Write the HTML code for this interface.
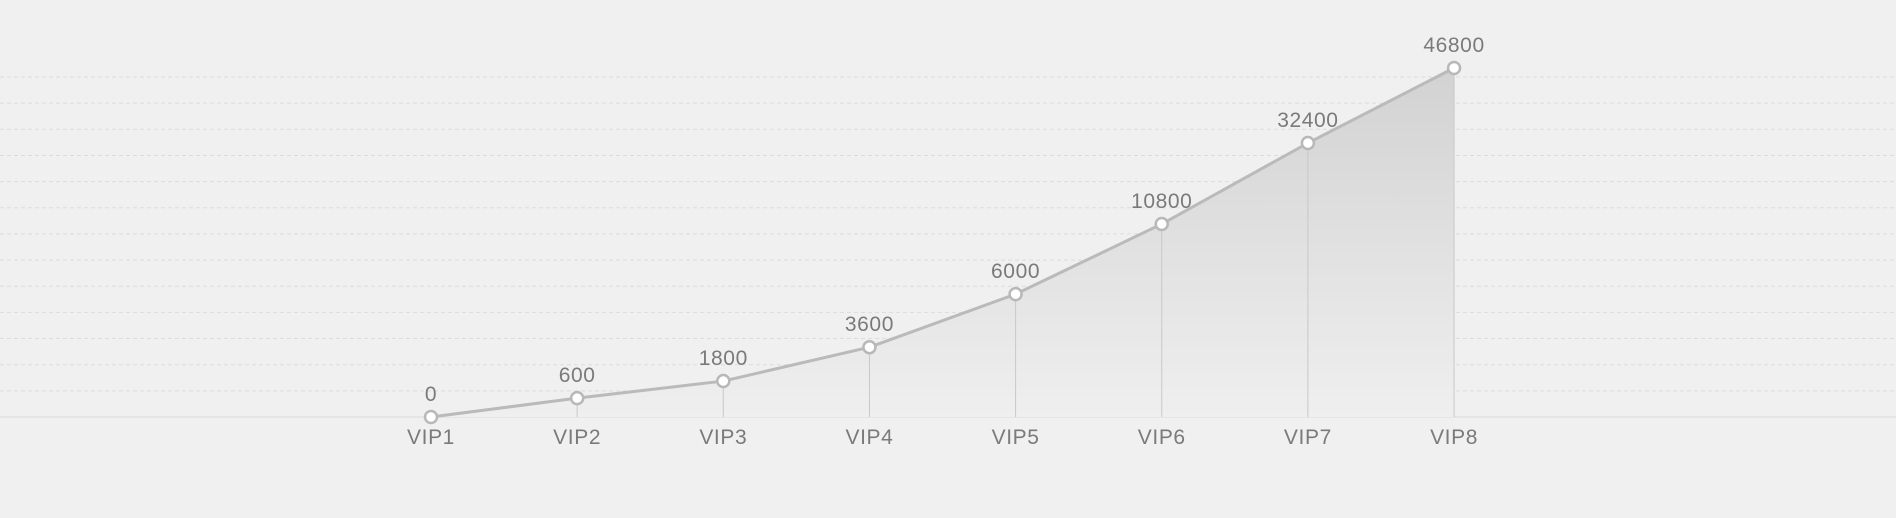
<!DOCTYPE html>
<html><head><meta charset="utf-8"><style>
html,body{margin:0;padding:0;background:#f0f0f0;}
svg{display:block;font-family:"Liberation Sans",sans-serif;}
</style></head><body>
<svg id="chart" width="1896" height="518" viewBox="0 0 1896 518">
<defs><linearGradient id="ag" x1="0" y1="0" x2="0" y2="1">
<stop offset="0" stop-color="#d2d2d2"/><stop offset="1" stop-color="#efefef"/></linearGradient></defs>
<g id="grid"></g>
<g id="marks"></g>
</svg>
<script>
const categories = ["VIP1","VIP2","VIP3","VIP4","VIP5","VIP6","VIP7","VIP8"];
const valueLabels = [0,600,1800,3600,6000,10800,32400,46800];
const levelValues = [0,0.54,1.03,2.0,3.52,5.53,7.85,10];
const gridCount = 13;
const NS="http://www.w3.org/2000/svg";
const x0=431, dx=146.15, baseY=417, topY=68, maxV=10;
const xs=i=>x0+i*dx;
const ys=v=>baseY-(v/maxV)*(baseY-topY);
function mk(t,a,p){const e=document.createElementNS(NS,t);for(const k in a)e.setAttribute(k,a[k]);p.appendChild(e);return e;}
const grid=document.getElementById('grid'), marks=document.getElementById('marks');
const gstep=(baseY-77)/gridCount;
for(let i=1;i<=gridCount;i++){const l=mk('line',{x1:0,x2:1896,y1:baseY-i*gstep,y2:baseY-i*gstep,stroke:'#dcdcdc','stroke-dasharray':'4,3'},grid);

}
const base=mk('line',{x1:0,x2:1896,y1:baseY,y2:baseY,stroke:'#dadada'},grid);


let d='M'+xs(0)+','+baseY;levelValues.forEach((v,i)=>d+=' L'+xs(i)+','+ys(v));d+=' L'+xs(levelValues.length-1)+','+baseY+' Z';
const area=mk('path',{d:d,fill:'url(#ag)'},marks);


levelValues.forEach((v,i)=>{const l=mk('line',{x1:xs(i),x2:xs(i),y1:ys(v),y2:baseY,stroke:'#c8c8c8'},marks);

});
const line=mk('polyline',{points:levelValues.map((v,i)=>xs(i)+','+ys(v)).join(' '),fill:'none',stroke:'#bababa','stroke-width':3},marks);


levelValues.forEach((v,i)=>{
const c=mk('circle',{cx:xs(i),cy:ys(v),r:6,fill:'#fff',stroke:'#b8b8b8','stroke-width':2.5},marks);


const t=mk('text',{x:xs(i),y:ys(v)-16,'text-anchor':'middle','font-size':21,'letter-spacing':0.6,fill:'#7a7a7a'},marks);t.textContent=valueLabels[i];


const a=mk('text',{x:xs(i),y:444,'text-anchor':'middle','font-size':21,'letter-spacing':0.6,fill:'#7a7a7a'},marks);a.textContent=categories[i];


});
</script>
</body></html>
